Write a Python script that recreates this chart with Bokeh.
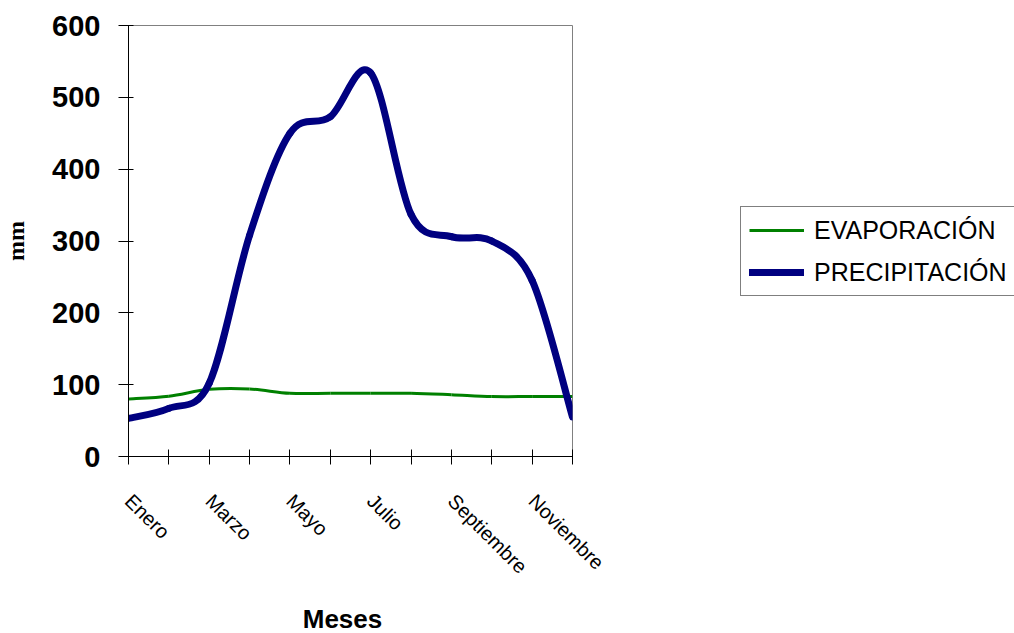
import math
import numpy as np
from bokeh.plotting import figure
from bokeh.layouts import row, column
from bokeh.models import (ColumnDataSource, FixedTicker, Range1d, Legend,
                          LegendItem, Label)
from bokeh.embed import file_html
from bokeh.resources import INLINE

# ---- data ----
months = ["Enero", "Febrero", "Marzo", "Abril", "Mayo", "Junio", "Julio",
          "Agosto", "Septiembre", "Octubre", "Noviembre", "Diciembre"]
evaporacion = [80, 84, 93.5, 94, 88, 88, 88, 88, 86, 83.5, 83.5, 83.5]
precipitacion = [53, 67, 102, 308, 450, 473, 534, 337, 306, 300, 245, 55]
y_ticks = [0, 100, 200, 300, 400, 500, 600]
series_names = ["EVAPORACIÓN", "PRECIPITACIÓN"]
x_title = "Meses"
y_title = "mm"


def smooth_source(vals):
    """Cubic Bezier segments through the monthly points (Excel-style smoothed line)."""
    y = np.asarray(vals, dtype=float)
    x = np.arange(len(y), dtype=float)
    xp = np.concatenate([[x[0]], x, [x[-1]]])
    yp = np.concatenate([[y[0]], y, [y[-1]]])
    n = len(y)
    d = dict(x0=[], y0=[], x1=[], y1=[], cx0=[], cy0=[], cx1=[], cy1=[])
    for i in range(n - 1):
        d["x0"].append(x[i]); d["y0"].append(y[i])
        d["x1"].append(x[i + 1]); d["y1"].append(y[i + 1])
        d["cx0"].append(x[i] + (xp[i + 2] - xp[i]) / 6.0)
        d["cy0"].append(y[i] + (yp[i + 2] - yp[i]) / 6.0)
        d["cx1"].append(x[i + 1] - (xp[i + 3] - xp[i + 1]) / 6.0)
        d["cy1"].append(y[i + 1] - (yp[i + 3] - yp[i + 1]) / 6.0)
    return ColumnDataSource(d)


EVAP_STYLE = dict(line_color="#008000", line_width=3)
PREC_STYLE = dict(line_color="#000080", line_width=7, line_cap="round")


def blank(fig):
    fig.outline_line_color = None
    fig.background_fill_color = "white"
    fig.border_fill_color = "white"
    fig.xgrid.visible = False
    fig.ygrid.visible = False


# ---------------- main chart ----------------
p = figure(width=640, height=600,
           x_range=Range1d(0, len(months) - 1), y_range=Range1d(0, 600),
           output_backend="svg", toolbar_location=None,
           min_border_left=126, min_border_right=68,
           min_border_top=25, min_border_bottom=144)

p.background_fill_color = "white"
p.border_fill_color = "white"
p.outline_line_color = "#808080"
p.outline_line_width = 1
p.xgrid.visible = False
p.ygrid.visible = False

p.bezier(x0="x0", y0="y0", x1="x1", y1="y1", cx0="cx0", cy0="cy0",
         cx1="cx1", cy1="cy1", source=smooth_source(evaporacion), **EVAP_STYLE)
p.bezier(x0="x0", y0="y0", x1="x1", y1="y1", cx0="cx0", cy0="cy0",
         cx1="cx1", cy1="cy1", source=smooth_source(precipitacion), **PREC_STYLE)

xa = p.xaxis[0]
xa.ticker = FixedTicker(ticks=list(range(len(months))))
xa.major_label_overrides = {i: (m if i % 2 == 0 else "") for i, m in enumerate(months)}
xa.major_label_orientation = -math.pi / 4
xa.major_label_text_font = "Liberation Sans"
xa.major_label_text_font_size = "20px"
xa.major_label_text_color = "black"
xa.major_label_standoff = 33
xa.major_tick_in = 7
xa.major_tick_out = 8
xa.minor_tick_line_color = None
xa.axis_line_color = "black"
xa.major_tick_line_color = "black"

ya = p.yaxis[0]
ya.ticker = FixedTicker(ticks=y_ticks)
ya.major_label_text_font = "Liberation Sans"
ya.major_label_text_font_style = "bold"
ya.major_label_text_font_size = "29px"
ya.major_label_text_color = "black"
ya.major_label_standoff = 18
ya.major_tick_in = 5
ya.major_tick_out = 10
ya.minor_tick_line_color = None
ya.axis_line_color = "black"
ya.major_tick_line_color = "black"
ya.axis_label = y_title
ya.axis_label_text_font = "Liberation Serif"
ya.axis_label_text_font_style = "bold"
ya.axis_label_text_font_size = "24px"
ya.axis_label_text_color = "black"
ya.axis_label_standoff = 20

# ---------------- x-axis title strip ----------------
m = figure(width=640, height=33, x_range=Range1d(0, 1), y_range=Range1d(0, 1),
           output_backend="svg", toolbar_location=None,
           x_axis_location=None, y_axis_location=None,
           min_border_left=126, min_border_right=68, min_border_top=0, min_border_bottom=0)
m.title_location = None
blank(m)
m.add_layout(Label(x=214, y=15, x_units="screen", y_units="screen", text=x_title,
                   text_align="center", text_baseline="alphabetic",
                   text_font="Liberation Sans", text_font_style="bold",
                   text_font_size="26px", text_color="black"))

# ---------------- legend panel ----------------
q = figure(width=374, height=633, x_range=Range1d(-20, -19), y_range=Range1d(-20, -19),
           output_backend="svg", toolbar_location=None,
           x_axis_location=None, y_axis_location=None,
           min_border_left=99, min_border_right=0, min_border_top=205, min_border_bottom=0)
blank(q)
le = q.line(x=list(range(len(months))), y=evaporacion, **EVAP_STYLE)
lp = q.line(x=list(range(len(months))), y=precipitacion, **PREC_STYLE)

legend = Legend(items=[LegendItem(label=series_names[0], renderers=[le]),
                       LegendItem(label=series_names[1], renderers=[lp])],
                location="top_left")
legend.label_text_font = "Liberation Sans"
legend.label_text_font_size = "25px"
legend.label_text_color = "black"
legend.border_line_color = "black"
legend.border_line_width = 1
legend.background_fill_color = "white"
legend.background_fill_alpha = 1
legend.padding = 8
legend.margin = 1
legend.spacing = 12
legend.label_height = 30
legend.glyph_height = 30
legend.glyph_width = 55
legend.label_standoff = 10
q.add_layout(legend, "center")

open("out.html", "w").write(file_html(row(column(p, m), q), INLINE))
